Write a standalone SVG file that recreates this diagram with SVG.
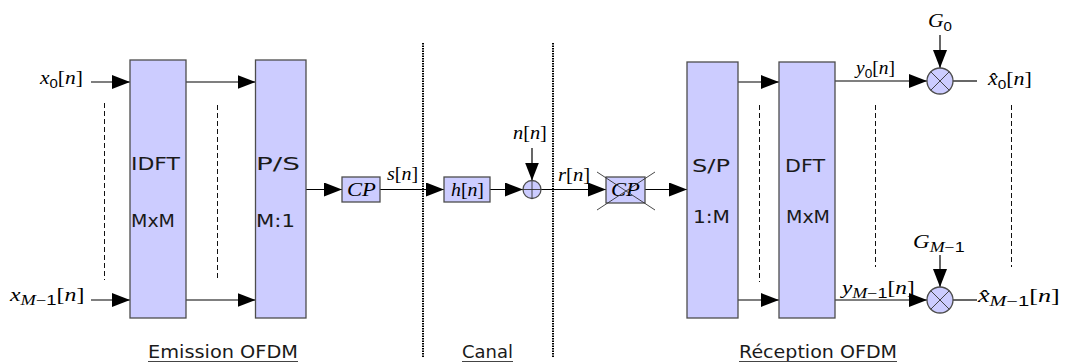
<svg xmlns="http://www.w3.org/2000/svg" width="1065" height="363" viewBox="0 0 1065 363">
<defs>
<marker id="ah" markerWidth="18" markerHeight="14" refX="18" refY="7" orient="auto" markerUnits="userSpaceOnUse"><path d="M0,0 L18,7 L0,14 z" fill="#000"/></marker>
</defs>
<style>
.box{fill:#ccccff;stroke:#4d4d4d;stroke-width:1.3}
.ln{stroke:#000;stroke-width:1.2;fill:none}
.ar{stroke:#000;stroke-width:1.2;fill:none;marker-end:url(#ah)}
.dash{stroke:#111;stroke-width:1;stroke-dasharray:5 3}
.dot{stroke:#000;stroke-width:2;stroke-dasharray:1.5 1}
.thin{stroke:#333;stroke-width:0.9}
.sans{font-family:"DejaVu Sans",Verdana,sans-serif;font-size:17px;fill:#1a1a1a}
.m{font-family:"Liberation Serif","Times New Roman",serif;font-size:18px;fill:#000}
.i{font-style:italic}
.sub{font-size:12.6px}
.subm{font-size:14px}
.subs{font-family:"Liberation Sans",Arial,sans-serif}
.ul{stroke:#444;stroke-width:1}
</style>

<g id="connectors">
  <line class="ar" x1="91" y1="82" x2="130" y2="82"/>
  <line class="ar" x1="91" y1="300" x2="130" y2="300"/>
  <line class="ar" x1="186" y1="82" x2="255.5" y2="82"/>
  <line class="ar" x1="186" y1="300" x2="255.5" y2="300"/>
  <line class="ar" x1="306" y1="189.5" x2="342" y2="189.5"/>
  <line class="ar" x1="380" y1="189.5" x2="444" y2="189.5"/>
  <line class="ar" x1="490" y1="189.5" x2="523" y2="189.5"/>
  <line class="ar" x1="532" y1="148" x2="532" y2="180.5"/>
  <line class="ar" x1="541" y1="189.5" x2="606" y2="189.5"/>
  <line class="ar" x1="645" y1="189.5" x2="687" y2="189.5"/>
  <line class="ar" x1="738" y1="82" x2="779" y2="82"/>
  <line class="ar" x1="738" y1="300" x2="779" y2="300"/>
  <line class="ar" x1="835" y1="81" x2="927" y2="81"/>
  <line class="ar" x1="835" y1="300" x2="927" y2="300"/>
  <line class="ar" x1="940" y1="35" x2="940" y2="68"/>
  <line class="ar" x1="940" y1="255" x2="940" y2="287"/>
  <line class="ln" x1="953" y1="81" x2="977" y2="81"/>
  <line class="ln" x1="953" y1="300" x2="977" y2="300"/>
</g>

<g id="guides">
  <line class="dash" x1="104.5" y1="103" x2="104.5" y2="280"/>
  <line class="dash" x1="217.5" y1="105" x2="217.5" y2="281"/>
  <line class="dash" x1="759.5" y1="105" x2="759.5" y2="282"/>
  <line class="dash" x1="875.5" y1="105" x2="875.5" y2="267"/>
  <line class="dash" x1="1011.5" y1="105" x2="1011.5" y2="267"/>
  <line class="dot" x1="423" y1="43" x2="423" y2="357"/>
  <line class="dot" x1="553" y1="43" x2="553" y2="357"/>
</g>

<g id="idft">
  <rect class="box" x="130" y="60" width="56" height="258"/>
  <text class="sans" x="131" y="170" textLength="49" lengthAdjust="spacingAndGlyphs">IDFT</text>
  <text class="sans" x="131" y="227" textLength="44" lengthAdjust="spacingAndGlyphs">MxM</text>
</g>
<g id="ps">
  <rect class="box" x="255.5" y="60" width="50.5" height="258"/>
  <text class="sans" x="256" y="170" textLength="44" lengthAdjust="spacingAndGlyphs">P/S</text>
  <text class="sans" x="256" y="227" textLength="39" lengthAdjust="spacingAndGlyphs">M:1</text>
</g>
<g id="cp">
  <rect class="box" x="342" y="177" width="38" height="25"/>
  <text class="m i" transform="translate(347,196) scale(1.26,1)">CP</text>
</g>
<g id="h">
  <rect class="box" x="444" y="177" width="46" height="25"/>
  <text class="m" transform="translate(451,196) scale(1.1,1)"><tspan class="i">h</tspan>[<tspan class="i">n</tspan>]</text>
</g>
<g id="sum">
  <circle class="box" cx="532" cy="189.5" r="9"/>
  <line class="thin" x1="523" y1="189.5" x2="541" y2="189.5"/>
  <line class="thin" x1="532" y1="180.5" x2="532" y2="198.5"/>
</g>
<g id="cp-removed">
  <rect class="box" x="606" y="177" width="39" height="26"/>
  <text class="m i" transform="translate(611,196) scale(1.26,1)">CP</text>
  <line class="thin" x1="597" y1="172" x2="655" y2="210"/>
  <line class="thin" x1="597" y1="210" x2="655" y2="172"/>
</g>
<g id="sp">
  <rect class="box" x="687" y="62" width="51" height="256"/>
  <text class="sans" x="692" y="172" textLength="38" lengthAdjust="spacingAndGlyphs">S/P</text>
  <text class="sans" x="693" y="223" textLength="37" lengthAdjust="spacingAndGlyphs">1:M</text>
</g>
<g id="dft">
  <rect class="box" x="779" y="62" width="56" height="256"/>
  <text class="sans" x="785" y="172" textLength="40" lengthAdjust="spacingAndGlyphs">DFT</text>
  <text class="sans" x="786" y="223" textLength="44" lengthAdjust="spacingAndGlyphs">MxM</text>
</g>
<g id="mult0">
  <circle class="box" cx="940" cy="81" r="13"/>
  <line class="thin" x1="930.8" y1="71.8" x2="949.2" y2="90.2"/>
  <line class="thin" x1="930.8" y1="90.2" x2="949.2" y2="71.8"/>
</g>
<g id="multM">
  <circle class="box" cx="940" cy="300" r="13"/>
  <line class="thin" x1="930.8" y1="290.8" x2="949.2" y2="309.2"/>
  <line class="thin" x1="930.8" y1="309.2" x2="949.2" y2="290.8"/>
</g>

<g id="labels">
  <text class="m" transform="translate(40,84) scale(1.19,1)"><tspan class="i">x</tspan><tspan class="sub subs" dy="3.5">0</tspan><tspan dy="-3.5">[</tspan><tspan class="i">n</tspan>]</text>
  <text class="m" transform="translate(10,301) scale(1.32,1)"><tspan class="i">x</tspan><tspan class="subm" dy="3.5"><tspan class="i">M</tspan>−<tspan class="subs">1</tspan></tspan><tspan dy="-3.5">[</tspan><tspan class="i">n</tspan>]</text>
  <text class="m" transform="translate(387,180) scale(1.11,1)"><tspan class="i">s</tspan>[<tspan class="i">n</tspan>]</text>
  <text class="m" transform="translate(513,139) scale(1.13,1)"><tspan class="i">n</tspan>[<tspan class="i">n</tspan>]</text>
  <text class="m" transform="translate(558,181) scale(1.15,1)"><tspan class="i">r</tspan>[<tspan class="i">n</tspan>]</text>
  <text class="m" transform="translate(856,74) scale(1.08,1)"><tspan class="i">y</tspan><tspan class="sub subs" dy="3.5">0</tspan><tspan dy="-3.5">[</tspan><tspan class="i">n</tspan>]</text>
  <text class="m" transform="translate(928,27) scale(1.2,1)"><tspan class="i">G</tspan><tspan class="sub subs" dy="3.5">0</tspan></text>
  <text class="m" transform="translate(988,85) scale(1.22,1)"><tspan class="i">x&#x302;</tspan><tspan class="sub subs" dy="3.5">0</tspan><tspan dy="-3.5">[</tspan><tspan class="i">n</tspan>]</text>
  <text class="m" transform="translate(842,294) scale(1.29,1)"><tspan class="i">y</tspan><tspan class="subm" dy="3.5"><tspan class="i">M</tspan>−<tspan class="subs">1</tspan></tspan><tspan dy="-3.5">[</tspan><tspan class="i">n</tspan>]</text>
  <text class="m" transform="translate(913,248) scale(1.28,1)"><tspan class="i">G</tspan><tspan class="subm" dy="3.5"><tspan class="i">M</tspan>−<tspan class="subs">1</tspan></tspan></text>
  <text class="m" transform="translate(978,302) scale(1.45,1)"><tspan class="i">x&#x302;</tspan><tspan class="subm" dy="3.5"><tspan class="i">M</tspan>−<tspan class="subs">1</tspan></tspan><tspan dy="-3.5">[</tspan><tspan class="i">n</tspan>]</text>
</g>

<g id="sections">
  <text class="sans" x="148" y="358" textLength="150" lengthAdjust="spacingAndGlyphs">Emission OFDM</text>
  <line class="ul" x1="148" y1="361.5" x2="298" y2="361.5"/>
  <text class="sans" x="462" y="358" textLength="51" lengthAdjust="spacingAndGlyphs">Canal</text>
  <line class="ul" x1="462" y1="361.5" x2="513" y2="361.5"/>
  <text class="sans" x="739" y="358" textLength="158" lengthAdjust="spacingAndGlyphs">Réception OFDM</text>
  <line class="ul" x1="739" y1="361.5" x2="897" y2="361.5"/>
</g>
</svg>
